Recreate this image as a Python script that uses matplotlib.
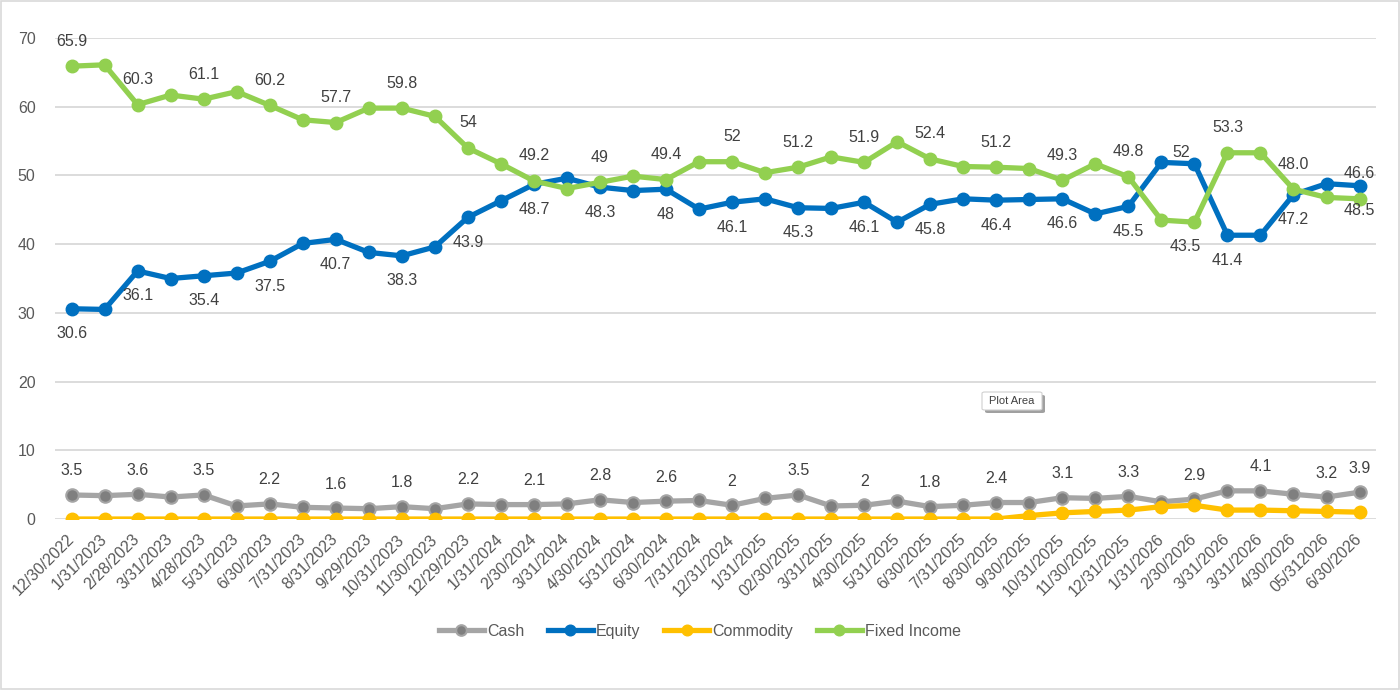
import numpy as np
import matplotlib.pyplot as plt
from matplotlib.patches import Rectangle, FancyBboxPatch

plt.rcParams['font.family'] = ['Liberation Sans', 'DejaVu Sans']

dates = ['12/30/2022', '1/31/2023', '2/28/2023', '3/31/2023', '4/28/2023', '5/31/2023',
         '6/30/2023', '7/31/2023', '8/31/2023', '9/29/2023', '10/31/2023', '11/30/2023',
         '12/29/2023', '1/31/2024', '2/30/2024', '3/31/2024', '4/30/2024', '5/31/2024',
         '6/30/2024', '7/31/2024', '12/31/2024', '1/31/2025', '02/30/2025', '3/31/2025',
         '4/30/2025', '5/31/2025', '6/30/2025', '7/31/2025', '8/30/2025', '9/30/2025',
         '10/31/2025', '11/30/2025', '12/31/2025', '1/31/2026', '2/30/2026', '3/31/2026',
         '3/31/2026', '4/30/2026', '05/312026', '6/30/2026']

cash = [3.5, 3.4, 3.6, 3.2, 3.5, 1.9, 2.2, 1.7, 1.6, 1.5, 1.8, 1.5, 2.2, 2.1, 2.1, 2.2,
        2.8, 2.4, 2.6, 2.7, 2.0, 3.0, 3.5, 1.9, 2.0, 2.6, 1.8, 2.0, 2.4, 2.4, 3.1, 3.0,
        3.3, 2.5, 2.9, 4.1, 4.1, 3.6, 3.2, 3.9]
equity = [30.6, 30.5, 36.1, 35.0, 35.4, 35.8, 37.5, 40.1, 40.7, 38.8, 38.3, 39.6, 43.9,
          46.3, 48.7, 49.6, 48.3, 47.8, 48.0, 45.1, 46.1, 46.6, 45.3, 45.2, 46.1, 43.2,
          45.8, 46.6, 46.4, 46.5, 46.6, 44.4, 45.5, 51.9, 51.7, 41.3, 41.3, 47.2, 48.8, 48.5]
commodity = [0, 0, 0, 0, 0, 0, 0, 0, 0, 0, 0, 0, 0, 0, 0, 0, 0, 0, 0, 0, 0, 0, 0, 0, 0,
             0, 0, 0, 0, 0.5, 0.9, 1.1, 1.3, 1.8, 2.0, 1.3, 1.3, 1.2, 1.1, 1.0]
fixed_income = [65.9, 66.1, 60.3, 61.7, 61.1, 62.2, 60.2, 58.1, 57.7, 59.8, 59.8, 58.6,
                54.0, 51.7, 49.2, 48.1, 49.0, 49.9, 49.4, 52.0, 52.0, 50.4, 51.2, 52.7,
                51.9, 54.9, 52.4, 51.3, 51.2, 51.0, 49.3, 51.7, 49.8, 43.5, 43.2, 53.3,
                53.3, 48.0, 46.8, 46.6]

# data labels (index, text) as shown on the chart
cash_lbl_idx = [0, 2, 4, 6, 8, 10, 12, 14, 16, 18, 20, 22, 24, 26, 28, 30, 32, 34, 36, 38, 39]
cash_lbl_txt = ['3.5', '3.6', '3.5', '2.2', '1.6', '1.8', '2.2', '2.1', '2.8', '2.6', '2',
                '3.5', '2', '1.8', '2.4', '3.1', '3.3', '2.9', '4.1', '3.2', '3.9']
eq_lbl_idx = [0, 2, 4, 6, 8, 10, 12, 14, 16, 18, 20, 22, 24, 26, 28, 30, 32, 33, 35, 37, 39]
eq_lbl_txt = ['30.6', '36.1', '35.4', '37.5', '40.7', '38.3', '43.9', '48.7', '48.3', '48',
              '46.1', '45.3', '46.1', '45.8', '46.4', '46.6', '45.5', '52', '41.4', '47.2', '48.5']
fi_lbl_idx = [0, 2, 4, 6, 8, 10, 12, 14, 16, 18, 20, 22, 24, 26, 28, 30, 32, 33, 35, 37, 39]
fi_lbl_txt = ['65.9', '60.3', '61.1', '60.2', '57.7', '59.8', '54', '49.2', '49', '49.4',
              '52', '51.2', '51.9', '52.4', '51.2', '49.3', '49.8', '43.5', '53.3', '48.0', '46.6']

x = np.arange(len(dates))

fig = plt.figure(figsize=(14, 6.9), dpi=100)
ax = fig.add_axes([0.0393, 0.2478, 0.9436, 0.6971])

lw = 3.8
ms = 9
ax.plot(x, cash, color='#A5A5A5', lw=lw, marker='o', ms=ms, mfc='#7F7F7F', mec='#A5A5A5',
        mew=1.5, label='Cash', zorder=3)
ax.plot(x, equity, color='#0070C0', lw=lw, marker='o', ms=ms, label='Equity', zorder=4)
ax.plot(x, commodity, color='#FFC000', lw=lw, marker='o', ms=ms, label='Commodity', zorder=3)
ax.plot(x, fixed_income, color='#92D050', lw=lw, marker='o', ms=ms, label='Fixed Income', zorder=5)

lbl_kw = dict(textcoords='offset pixels', ha='center', va='center', fontsize=11.5,
              color='#404040', zorder=6)
for i, t in zip(cash_lbl_idx, cash_lbl_txt):
    ax.annotate(t, (x[i], cash[i]), xytext=(0, 24), **lbl_kw)
for i, t in zip(eq_lbl_idx, eq_lbl_txt):
    off = (20, 10) if i == 33 else (0, -25)
    ax.annotate(t, (x[i], equity[i]), xytext=off, **lbl_kw)
for i, t in zip(fi_lbl_idx, fi_lbl_txt):
    off = (24, -26) if i == 33 else (0, 25)
    ax.annotate(t, (x[i], fixed_income[i]), xytext=off, **lbl_kw)

ax.set_xlim(-0.5, len(dates) - 0.5)
ax.set_ylim(0, 70)
ax.set_yticks(range(0, 71, 10))
ax.grid(axis='y', color='#D9D9D9', lw=1.3)
ax.set_axisbelow(True)
for s in ax.spines.values():
    s.set_visible(False)
ax.tick_params(axis='both', length=0, labelsize=11.5, labelcolor='#595959')
ax.tick_params(axis='y', pad=14)
ax.set_xticks(x)
ax.set_xticklabels(dates, rotation=45, ha='right', va='center', rotation_mode='anchor')
ax.tick_params(axis='x', pad=13)

fig.legend(loc='center', bbox_to_anchor=(0.5, 0.0855), ncol=4, frameon=False,
           fontsize=11.5, labelcolor='#595959', handlelength=2.8, handletextpad=0.2,
           columnspacing=1.5, markerscale=0.85)

# hover tooltip left in the screenshot (box 982..1042 x 392..410 px)
W, H = 1400, 690
bx, by, bw, bh = 982, 392, 60, 18
fig.patches.append(FancyBboxPatch(((bx + 3) / W, 1 - (by + bh + 3) / H), bw / W, bh / H,
                                  boxstyle='round,pad=0,rounding_size=0.002',
                                  transform=fig.transFigure, fc='#A0A0A0', ec='none', zorder=10))
fig.patches.append(FancyBboxPatch((bx / W, 1 - (by + bh) / H), bw / W, bh / H,
                                  boxstyle='round,pad=0,rounding_size=0.002',
                                  transform=fig.transFigure, fc='white', ec='#D0D0D0',
                                  lw=0.8, zorder=11))
fig.text((bx + bw / 2) / W, 1 - (by + bh / 2) / H, 'Plot Area', fontsize=8, color='#404040',
         ha='center', va='center', zorder=12)

fig.patches.append(Rectangle((0.0007, 0.0015), 0.9986, 0.997, transform=fig.transFigure,
                             fill=False, edgecolor='#D9D9D9', lw=1.2))

fig.savefig('out.png', dpi=100)
